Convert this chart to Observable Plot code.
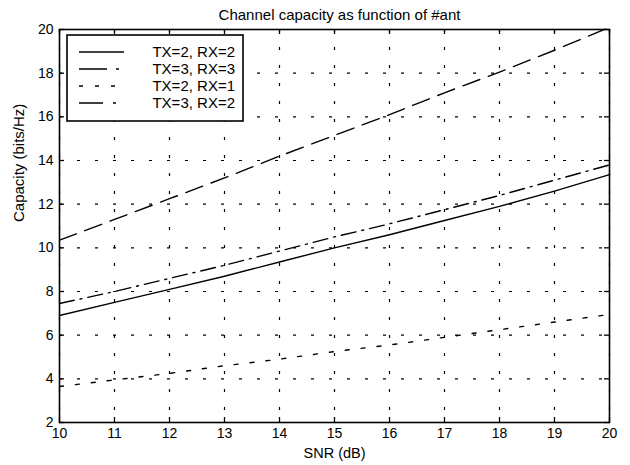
<!DOCTYPE html>
<html>
<head>
<meta charset="utf-8">
<script src="https://cdn.jsdelivr.net/npm/d3@7"></script>
<script src="https://cdn.jsdelivr.net/npm/@observablehq/plot@0.6"></script>
<style>
  html, body { margin: 0; padding: 0; background: #fff; }
  #chart svg { display: block; }
</style>
</head>
<body>
<div id="chart"></div>
<script>
const snr = [10, 11, 12, 13, 14, 15, 16, 17, 18, 19, 20];
const tx2rx2 = [6.9, 7.5, 8.1, 8.7, 9.35, 10.0, 10.6, 11.25, 11.9, 12.6, 13.35];
const tx3rx3 = [10.35, 11.3, 12.25, 13.2, 14.2, 15.15, 16.1, 17.1, 18.05, 19.05, 20.1];
const tx2rx1 = [3.65, 3.95, 4.25, 4.6, 4.9, 5.25, 5.55, 5.9, 6.25, 6.6, 6.95];
const tx3rx2 = [7.45, 8.0, 8.6, 9.2, 9.85, 10.5, 11.1, 11.75, 12.4, 13.1, 13.8];
const seriesNames = ["TX=2, RX=2", "TX=3, RX=3", "TX=2, RX=1", "TX=3, RX=2"];
const seriesValues = [tx2rx2, tx3rx3, tx2rx1, tx3rx2];
const dashes = [null, "18,9", "4,12", "15,6,2,6"];
const legendDashes = [null, "28,9,3,9", "4,12", "24,10,3,10"];
const xTicks = [10, 11, 12, 13, 14, 15, 16, 17, 18, 19, 20];
const yTicks = [2, 4, 6, 8, 10, 12, 14, 16, 18, 20];

const W = 630, H = 465;
const mL = 59, mR = 21, mT = 29, mB = 43;
const innerH = H - mT - mB, innerW = W - mL - mR;
const font = "'Liberation Sans', Arial, Helvetica, sans-serif";

const rows = seriesNames.flatMap((name, i) =>
  snr.map((s, j) => ({series: name, snr: s, cap: seriesValues[i][j]})));

const lineMarks = seriesNames.map((name, i) =>
  Plot.line(rows.filter(d => d.series === name), {
    x: "snr", y: "cap", stroke: "black", strokeWidth: 1.4,
    strokeDasharray: dashes[i] ?? undefined
  }));

const chart = Plot.plot({
  width: W, height: H,
  marginLeft: mL, marginRight: mR, marginTop: mT, marginBottom: mB,
  style: {fontFamily: font, fontSize: "14px", color: "black", background: "white"},
  x: {domain: [10, 20]},
  y: {domain: [2, 20]},
  marks: [
    Plot.gridX(xTicks, {stroke: "black", strokeOpacity: 1, strokeWidth: 1.2, strokeDasharray: "3,15"}),
    Plot.gridY(yTicks, {stroke: "black", strokeOpacity: 1, strokeWidth: 1.2, strokeDasharray: "3,15"}),
    Plot.axisX(xTicks, {anchor: "bottom", tickSize: 0, tickPadding: 6, label: null, fill: "black", fontSize: 14}),
    Plot.axisY(yTicks, {anchor: "left", tickSize: 0, tickPadding: 6, label: null, fill: "black", fontSize: 14}),
    Plot.tickX(xTicks, {x: d => d, insetTop: innerH - 5, stroke: "black", strokeWidth: 1.3}),
    Plot.tickX(xTicks, {x: d => d, insetBottom: innerH - 5, stroke: "black", strokeWidth: 1.3}),
    Plot.tickY(yTicks, {y: d => d, insetRight: innerW - 5, stroke: "black", strokeWidth: 1.3}),
    Plot.tickY(yTicks, {y: d => d, insetLeft: innerW - 5, stroke: "black", strokeWidth: 1.3}),
    ...lineMarks,
    Plot.frame({stroke: "black", strokeWidth: 1.6}),
    Plot.text(["Channel capacity as function of #ant"], {frameAnchor: "top", dy: -20, dx: 5, fontSize: 15, fill: "black"}),
    Plot.text(["SNR (dB)"], {frameAnchor: "bottom", dy: 35, fontSize: 14.5, fill: "black"}),
    Plot.text(["Capacity (bits/Hz)"], {frameAnchor: "left", dx: -40, dy: -4, rotate: -90, fontSize: 15, fill: "black"})
  ]
});

// Legend
const svg = d3.select(chart);
const lg = svg.append("g").attr("font-family", font).attr("font-size", 15);
lg.append("rect").attr("x", 67).attr("y", 35).attr("width", 176).attr("height", 86)
  .attr("fill", "white").attr("stroke", "black").attr("stroke-width", 1.6);
seriesNames.forEach((name, i) => {
  const y = 52 + i * 17;
  lg.append("line").attr("x1", 79).attr("x2", 124).attr("y1", y).attr("y2", y)
    .attr("stroke", "black").attr("stroke-width", 1.4)
    .attr("stroke-dasharray", legendDashes[i]);
  lg.append("text").attr("x", 235).attr("y", y).attr("dy", "0.35em")
    .attr("text-anchor", "end").attr("fill", "black").text(name);
});

document.getElementById("chart").appendChild(chart);
</script>
</body>
</html>
